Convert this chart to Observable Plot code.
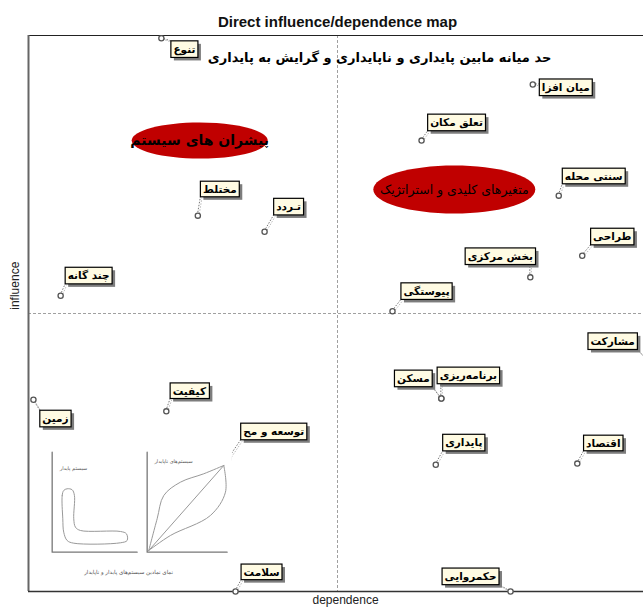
<!DOCTYPE html>
<html><head><meta charset="utf-8">
<script src="https://cdn.jsdelivr.net/npm/d3@7"></script>
<script src="https://cdn.jsdelivr.net/npm/@observablehq/plot@0.6"></script>
<style>
html,body{margin:0;padding:0;background:#fff;overflow:hidden;}
</style>
</head><body><div id="chart"></div>
<script>
// ---- data ----
const names = ["تنوع","میان افزا","تعلق مکان","مختلط","تـردد","سنتی محله","طراحی","بخش مرکزی","پیوستگی","چند گانه","مشارکت","مسکن","برنامه‌ریزی","پایداری","اقتصاد","حکمروایی","سلامت","زمین","کیفیت","توسعه و مح"];
const dependence = [21.5,81.6,63.6,27.4,38.2,85.8,89.6,81.2,58.9,5.2,101,66.8,66.8,65.9,88.8,78.0,33.5,0.8,22.3,32.4];
const influence  = [99.5,91.2,81.1,67.6,64.7,71.2,60.4,56.5,50.4,53.2,40.5,34.7,34.7,22.8,23.0,0,0,34.5,32.4,23.9];

const zoneNames = ["حد میانه مابین پایداری و ناپایداری و گرایش به پایداری","پیشران های سیستم","متغیرهای کلیدی و استراتژیک"];
const zoneX = [56.8, 27.7, 68.9];
const zoneY = [96.0, 81.1, 72.3];

const titleText = "Direct influence/dependence map";
const xLabel = "dependence";
const yLabel = "influence";

// inset (symbolic picture of stable / unstable systems), local 0..100 units
const insetTexts = ["سیستم پایدار","سیستم‌های ناپایدار","نمای نمادین سیستم‌های پایدار و ناپایدار"];
const stableBlob = [[13.6,61.7],[11.8,56.7],[12.5,33.4],[13.6,20],[17.6,11.7],[25.4,9],[80.4,9.4],[88.2,11.7],[87.4,18.4],[80.4,20.7],[33.3,21.7],[27.4,25],[25.4,33.4],[26.2,56.7],[23.5,62.4],[17.6,63.4]];
const leafUpper = [[2,1.7],[12.5,33.4],[20.8,56.7],[41.6,70],[70.8,78.4],[95.8,86.7]];
const leafLower = [[2,1.7],[29.1,16.7],[79.1,36.7],[97.9,60],[95.8,86.7]];
const leafDiag = [[2,1.7],[95.8,86.7]];
const insetAxes = [[0,100],[0,0],[100,0]];

// ---- layout (pixel offsets of each label box centre from its point) ----
const labelOffsets = [[23,11],[33,3],[35,-18],[22,-26],[24,-25],[35,-19],[30,-19],[-30,-21],[34,-20],[28,-20],[-40,-25],[-28,-20],[27,-23],[28,-22],[26,-20],[-40,-15],[26,-19],[22,19],[23,-20],[45,-27]];

const vars = names.map((n,i)=>({name:n, x:dependence[i], y:influence[i], dx:labelOffsets[i][0], dy:labelOffsets[i][1]}));
const zones = zoneNames.map((n,i)=>({name:n, x:zoneX[i], y:zoneY[i]}));

// inset frames in data units
const leftInset = {ox:3.83, oy:7.07, w:13.75, h:17.99};
const rightInset = {ox:19.2, oy:7.07, w:12.94, h:17.99};
const toData = (f, pts) => pts.map(([lx,ly]) => ({x: f.ox + lx/100*f.w, y: f.oy + ly/100*f.h}));

function ellipseSymbol(rx, ry){
  const k = 0.5522847498;
  return {draw(ctx){
    ctx.moveTo(rx,0);
    ctx.bezierCurveTo(rx, ry*k, rx*k, ry, 0, ry);
    ctx.bezierCurveTo(-rx*k, ry, -rx, ry*k, -rx, 0);
    ctx.bezierCurveTo(-rx, -ry*k, -rx*k, -ry, 0, -ry);
    ctx.bezierCurveTo(rx*k, -ry, rx, -ry*k, rx, 0);
    ctx.closePath();
  }};
}

const FA = "DejaVu Sans, sans-serif";
const insetLine = (pts, f, extra={}) => Plot.line(toData(f, pts), {x:"x", y:"y", stroke:"#8a8a8a", strokeWidth:1, ...extra});

const marks = [
  Plot.ruleX([50], {stroke:"#a0a0a0", strokeWidth:1, strokeDasharray:"3,2"}),
  Plot.ruleY([50], {stroke:"#a0a0a0", strokeWidth:1, strokeDasharray:"3,2"}),
  Plot.ruleY([100], {stroke:"#222", strokeWidth:1}),
  Plot.ruleX([0], {stroke:"#666", strokeWidth:2}),
  Plot.ruleY([0], {stroke:"#333", strokeWidth:1.5}),
  // points
  Plot.dot(vars, {x:"x", y:"y", r:2.6, fill:"white", stroke:"#555", strokeWidth:1.3}),
  // inset picture
  Plot.rect([0], {x1:1.6, x2:33.0, y1:1.6, y2:26.3, fill:"white"}),
  insetLine(insetAxes, leftInset, {stroke:"#777", strokeWidth:1.3}),
  insetLine(insetAxes, rightInset, {stroke:"#777", strokeWidth:1.3}),
  insetLine(stableBlob, leftInset, {curve:"catmull-rom-closed", stroke:"#999"}),
  insetLine(leafUpper, rightInset, {curve:"catmull-rom", stroke:"#999"}),
  insetLine(leafLower, rightInset, {curve:"catmull-rom", stroke:"#999"}),
  insetLine(leafDiag, rightInset, {stroke:"#999"}),
  Plot.text([insetTexts[0]], {x: leftInset.ox + 0.25*leftInset.w, y: leftInset.oy + 0.84*leftInset.h, text:d=>d, fontSize:5, fill:"#555", fontFamily:FA}),
  Plot.text([insetTexts[1]], {x: rightInset.ox + 0.33*rightInset.w, y: rightInset.oy + 0.91*rightInset.h, text:d=>d, fontSize:5, fill:"#555", fontFamily:FA}),
  Plot.text([insetTexts[2]], {x: 16.2, y: 3.4, text:d=>d, fontSize:5.5, fill:"#555", fontFamily:FA}),
  // zone ellipses
  Plot.dot([zones[1]], {x:"x", y:"y", r:5, symbol: ellipseSymbol(68,18), fill:"#c00000", stroke:"none"}),
  Plot.dot([zones[2]], {x:"x", y:"y", r:5, symbol: ellipseSymbol(81,24), fill:"#c00000", stroke:"none"}),
  Plot.text([zones[0]], {x:"x", y:"y", text:"name", fontSize:13, fontWeight:"bold", fill:"#000", fontFamily:FA}),
  Plot.text([zones[1]], {x:"x", y:"y", text:"name", fontSize:14, fontWeight:"bold", fill:"#000", fontFamily:FA}),
  Plot.text([zones[2]], {x:"x", y:"y", text:"name", fontSize:12.5, fill:"#000", fontFamily:FA}),
  // titles
  Plot.text([titleText], {frameAnchor:"top", dy:-19, text:d=>d, fontSize:15, fontWeight:"bold", fill:"#111", fontFamily:"Liberation Sans, Arial, sans-serif"}),
  Plot.text([xLabel], {x:51.3, y:0, dy:9, text:d=>d, fontSize:12, fill:"#222", fontFamily:"Liberation Sans, Arial, sans-serif"}),
  Plot.text([yLabel], {x:0, y:55, dx:-13, rotate:-90, text:d=>d, fontSize:12, fill:"#222", fontFamily:"Liberation Sans, Arial, sans-serif"}),
  // variable labels
  ...vars.map(v => Plot.text([v], {x:"x", y:"y", dx:v.dx, dy:v.dy, text:"name", fontSize:10.5, fontWeight:"bold", fill:"#000", fontFamily:FA}))
];

const plot = Plot.plot({
  width: 643, height: 607,
  marginTop: 35, marginBottom: 16, marginLeft: 28, marginRight: -3,
  style: {overflow:"hidden", background:"white"},
  x: {domain:[0,100], axis:null},
  y: {domain:[0,100], axis:null},
  marks
});
document.getElementById("chart").append(plot);

// ---- label boxes and leader lines ----
const svg = d3.select(plot);
const xs = plot.scale("x"), ys = plot.scale("y");
const svgRect = plot.getBoundingClientRect();
const firstDots = plot.querySelector('g[aria-label="dot"]');
const leaderG = d3.select(plot.insertBefore(document.createElementNS("http://www.w3.org/2000/svg","g"), firstDots));
const idx = new Map(names.map((n,i)=>[n,i]));
const done = new Set();
svg.selectAll('g[aria-label="text"] text').each(function(){
  const i = idx.get(this.textContent);
  if (i === undefined || done.has(i)) return;
  done.add(i);
  const t = this;
  const g = d3.select(t.parentNode);
  const bb = t.getBBox();
  const padX = 2.5, padY = 1.8;
  const tr = t.getAttribute("transform");
  const box = {x: bb.x - padX, y: bb.y - padY, w: bb.width + 2*padX, h: bb.height + 2*padY};
  const sh = g.insert("rect", () => t).attr("x", box.x+3).attr("y", box.y+3).attr("width", box.w).attr("height", box.h).attr("fill","#7d7d7d");
  const bx = g.insert("rect", () => t).attr("x", box.x).attr("y", box.y).attr("width", box.w).attr("height", box.h).attr("fill","#fffbe3").attr("stroke","#000").attr("stroke-width",1.2);
  if (tr) { sh.attr("transform", tr); bx.attr("transform", tr); }
  const r = bx.node().getBoundingClientRect();
  const L = r.left - svgRect.left, R = r.right - svgRect.left, T = r.top - svgRect.top, B = r.bottom - svgRect.top;
  const v = vars[i];
  const px = xs.apply(v.x), py = ys.apply(v.y);
  const cx = Math.abs(px - L) < Math.abs(px - R) ? L : R;
  const cy = Math.abs(py - T) < Math.abs(py - B) ? T : B;
  const ex = (px >= L && px <= R) ? px : cx;
  const ey = (py >= T && py <= B) ? py : cy;
  leaderG.append("line").attr("x1", px+1.5).attr("y1", py+1.5).attr("x2", ex+1.5).attr("y2", ey+1.5)
    .attr("stroke","#bbb").attr("stroke-width",1).attr("stroke-dasharray","1.5,1.5");
  leaderG.append("line").attr("x1", px).attr("y1", py).attr("x2", ex).attr("y2", ey)
    .attr("stroke","#777").attr("stroke-width",1).attr("stroke-dasharray","1.5,1.5");
});
</script>
</body></html>
